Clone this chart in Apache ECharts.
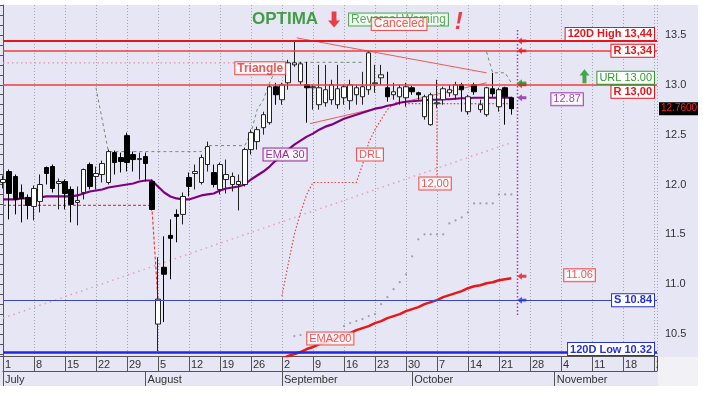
<!DOCTYPE html>
<html><head><meta charset="utf-8">
<script src="https://cdn.jsdelivr.net/npm/echarts@6/dist/echarts.min.js"></script>
<style>html,body{margin:0;padding:0;background:#fff}#c{width:703px;height:395px}</style>
</head><body><div id="c"></div>
<script>
// ---------- DATA ----------
const weekLabels = ['1','8','15','22','29','5','12','19','26','2','9','16','23','30','7','14','21','28','4','11','18','25'];
const monthLabels = ['July','August','September','October','November'];
const monthStarts = [0,23,45,66,89];

const opens = [12.02,12.13,12.08,11.92,11.87,11.78,11.83,12.17,12.18,12.01, 12.03,11.95,11.82,11.92,12.20,12.08,12.10,12.02,12.32,12.27, 12.49,12.30,12.25,12.28,12.03,10.60,11.17,11.49,11.70,11.70, 12.07,12.11,12.02,12.20,12.12,11.95,12.05,12.00,12.00,12.00, 12.35,12.43,12.57,12.62,12.98,12.85,13.02,13.20,13.03,13.00, 12.97,12.80,12.82,12.85,12.80,12.87,12.84,12.90,12.88,12.95, 13.01,13.07,12.97,12.90,12.88,12.87,12.97,12.92,12.68,12.60, 12.81,12.85,12.92,12.90,13.00,12.73,13.00,12.75,12.70,12.96, 12.78,12.97,12.87];
const closes = [12.05,11.91,11.85,11.86,11.79,11.96,12.00,12.11,11.96,12.03, 11.91,11.80,11.84,12.15,11.98,12.11,12.21,12.33,12.22,12.23, 12.22,12.25,12.26,12.21,11.75,10.85,11.10,11.46,11.68,11.88, 11.98,12.13,12.27,12.38,12.00,12.20,12.10,12.08,12.03,12.35, 12.52,12.55,12.70,12.98,12.90,13.00,13.22,13.22,13.21,12.97, 12.98,12.97,12.95,13.00,12.96,12.98,13.00,12.97,12.98,13.32, 13.02,13.10,12.88,12.93,12.97,12.98,12.93,12.90,12.88,12.90, 12.82,12.96,12.95,13.00,12.95,12.88,12.93,12.80,12.97,12.91, 12.95,12.88,12.76];
const lows = [11.96,11.65,11.70,11.62,11.65,11.64,11.72,12.00,11.92,11.75, 11.75,11.62,11.59,11.85,11.95,11.95,12.02,12.00,12.10,12.12, 12.13,12.13,12.05,12.03,11.74,10.33,10.62,11.05,11.42,11.60, 11.88,11.95,12.00,12.13,11.97,11.90,11.91,11.93,11.74,11.98, 12.30,12.35,12.50,12.60,12.80,12.80,12.95,13.18,13.00,12.62, 12.75,12.75,12.78,12.80,12.76,12.80,12.75,12.80,12.80,12.90, 12.92,13.00,12.83,12.85,12.80,12.78,12.90,12.85,12.65,12.59, 12.77,12.80,12.88,12.85,12.73,12.70,12.90,12.72,12.68,12.88, 12.73,12.60,12.70];
const highs = [12.09,12.15,12.10,12.00,11.90,11.99,12.10,12.18,12.20,12.06, 12.05,11.98,11.98,12.16,12.22,12.18,12.24,12.35,12.34,12.32, 12.52,12.33,12.32,12.32,12.05,11.27,11.48,11.65,11.75,11.92, 12.12,12.20,12.30,12.43,12.20,12.22,12.25,12.12,12.10,12.37, 12.55,12.58,12.73,13.00,13.02,13.02,13.25,13.44,13.23,13.23, 13.00,13.20,13.20,13.05,13.20,13.00,13.05,13.00,13.13,13.34, 13.20,13.20,13.13,13.02,13.00,13.02,12.99,12.93,12.90,12.92, 13.05,12.98,13.00,13.03,13.02,12.90,13.02,12.85,12.98,13.12, 12.97,12.98,12.88];

const ema30 = [11.85,11.85,11.85,11.86,11.86,11.86,11.87,11.88,11.88,11.88, 11.88,11.88,11.89,11.91,11.93,11.94,11.95,11.97,11.98,11.99, 12.00,12.01,12.03,12.04,12.04,11.98,11.92,11.88,11.86,11.85, 11.85,11.87,11.89,11.90,11.91,11.94,11.96,11.97,11.98,12.00, 12.05,12.09,12.13,12.18,12.24,12.29,12.35,12.40,12.44,12.48, 12.51,12.55,12.58,12.60,12.63,12.66,12.68,12.70,12.72,12.74, 12.76,12.77,12.79,12.80,12.82,12.83,12.835,12.84,12.845,12.85, 12.85,12.855,12.855,12.86,12.865,12.865,12.87,12.87,12.87,12.87, 12.87,12.87,12.87];

const ema200Start = 44;
const ema200 = [10.23,10.25,10.28,10.30,10.32,10.35,10.37,10.40,10.42,10.44, 10.47,10.49,10.51,10.54,10.56,10.58,10.61,10.63,10.66,10.68, 10.70,10.73,10.75,10.77,10.80,10.82,10.84,10.87,10.89,10.91, 10.93,10.96,10.98,10.99,11.01,11.02,11.04,11.05,11.06];

const drlOld = [11.79,11.79,11.79,11.79,11.79,11.79,11.79,11.79,11.79,11.79, 11.79,11.79,11.79,11.79,11.79,11.79,11.79,11.79,11.79,11.79, 11.79,11.79,11.79,11.79,11.79,10.84];
const drlStart = 45;
const drlNew = [10.88,11.20,11.50,11.72,11.90,12.02,12.02,12.02,12.02,12.02, 12.02,12.02,12.02,12.20,12.42,12.55,12.65,12.75,12.81,12.84, 12.81,12.81,12.81,12.81,12.81,12.81,12.81,12.81,12.81,12.81, 12.81,12.81,12.81,12.81,12.81,12.81,12.81,12.81];
const drlTarget = [[70, 12.81],[70, 12.07]];
const drlTargetValue = 12.00;

const stopA = {start:15, values:[12.97,12.65,12.33,12.33,12.33,12.33,12.33,12.33,12.33,12.33, 12.33,12.33,12.33,12.33,12.33,12.33,12.33,12.33,12.39,12.39, 12.39,12.39,12.39,12.39,12.39,12.52,12.75,12.85,13.02,13.15, 13.22,13.225,13.225,13.225,13.225,13.225,13.225,13.225,13.225,13.225, 13.225,13.225,13.225,13.225]};
const stopB = {start:78, values:[13.33,13.12,13.12,13.12,13.02]};

const sarStart = 47;
const sarDots = [10.48,10.49,null,null,null,null,null,null,10.58,10.61, 10.63,10.65,10.68,10.70,10.80,10.87,10.95,11.02,11.10,11.28, 11.45,11.50,11.50,11.50,11.50,11.61,11.64,11.67,11.72,11.81, 11.81,11.81,11.81,11.90,11.90,11.90];

const trendPink = [[0,10.66],[82,12.42]];
const oldTop = [[0,13.22],[38,13.22]];
const triUpper = [[47.4,13.47],[78,13.12]];
const triLower = [[49.5,12.61],[78,13.02]];
const todayLine = [[83,13.55],[83,10.67]];

const high120 = 13.44, res1 = 13.34, res2 = 13.00, urlLevel = 13.00, sup1 = 10.84, low120 = 10.32, lastPrice = 12.76;
const arrowX = 83.7;
const arrowLevels = [13.44, 13.34, 13.00, 13.02, 12.87, 11.08, 10.84];

// ---------- STYLE / LAYOUT ----------
const FONT = 'Liberation Sans, Arial, sans-serif';
const LAV = '#E6E6F5';
const RED = '#E8141C', BLUE = '#2430D8', PURPLE = '#800080', GREEN = '#1A8A1A';
const arrowColors = [RED, RED, RED, '#1A9A1A', '#9020A0', RED, BLUE];
const fmtC = v => v.toFixed(2).replace('.', ',');

const chart = echarts.init(document.getElementById('c'), null, {renderer:'canvas', width:703, height:395});

const idx = (arr, start) => arr.map((v,k) => [k + start, v == null ? '-' : v]);
const candleData = opens.map((o,i) => [i, o, closes[i], lows[i], highs[i]]);

function boxLabel(color, bold, size){
  return {show:true, position:'inside', color:color, fontSize:size||11, fontWeight:bold?'bold':'normal',
    fontFamily:FONT, backgroundColor:'#fff', borderColor:color, borderWidth:1, padding:[1,2,0,2], lineHeight:11};
}
function levelLabel(text, color, pos, dist){
  return {show:true, position:pos, formatter:text, distance:dist, color:color, fontWeight:'bold', fontSize:11,
    fontFamily:FONT, backgroundColor:'#fff', borderColor:color, borderWidth:1, padding:[1,2,0,2], lineHeight:11};
}

const LEFTARROW = 'path://M0,5 L6,0 L6,3 L12,3 L12,7 L6,7 L6,10 Z';
const DOWNARROW = 'path://M3,0 L7,0 L7,9 L10,9 L5,16 L0,9 L3,9 Z';
const UPARROW = 'path://M5,0 L10,7 L7,7 L7,16 L3,16 L3,7 L0,7 Z';

const annotations = [
  {name:'EMA 30', at:[45.5, 12.30], label: boxLabel(PURPLE,false)},
  {name:'DRL', at:[59.2, 12.30], label: boxLabel('#E83030',false)},
  {name:fmtC(drlTargetValue), at:[69.7, 12.01], label: boxLabel('#E83030',false)},
  {name:'EMA200', at:[52.8, 10.455], label: boxLabel('#E83030',false)},
  {name:ema200[ema200.length-1].toFixed(2), at:[93, 11.09], label: boxLabel('#E83030',false)},
  {name:ema30[ema30.length-1].toFixed(2), at:[91, 12.855], label: boxLabel('#9020A0',false)},
  {name:'Triangle', at:[41.5, 13.165], label: boxLabel('#E83030',true,12)},
  {name:'OPTIMA', at:[45.5, 13.66], label:{show:true, position:'inside', color:GREEN, fontSize:17, fontWeight:'bold', fontFamily:FONT}},
  {name:'Reversal Warning', at:[63.8, 13.655], label: boxLabel('#2E9A2E',false,12)},
  {name:'Canceled', at:[63.9, 13.61], label: boxLabel('#E83030',false,12)},
  {name:'!', at:[73.5, 13.63], label:{show:true, position:'inside', color:RED, fontSize:24, fontWeight:'bold', fontStyle:'italic', fontFamily:FONT}}
];

const option = {
  animation:false,
  textStyle:{fontFamily:FONT},
  graphic:{elements:[
    {type:'rect', z:-100, silent:true, shape:{x:0,y:5,width:698,height:381}, style:{fill:LAV}},
    {type:'rect', z:100, silent:true, shape:{x:658,y:357,width:40,height:29}, style:{fill:'#F2F2F6'}},
    {type:'rect', z:100, silent:true, shape:{x:698,y:0,width:5,height:395}, style:{fill:'#fff'}}
  ]},
  grid:{left:3,right:46,top:5,bottom:39},
  xAxis:[
    {type:'value', min:0, max:105.5, interval:5, position:'bottom',
     axisLine:{show:true, onZero:false, lineStyle:{color:'#555'}},
     axisTick:{show:true, length:15, lineStyle:{color:'#555'}},
     axisLabel:{formatter: v => (v % 5 === 0 && weekLabels[v/5] !== undefined) ? weekLabels[v/5] : '',
       align:'left', margin:3, padding:[0,0,0,2], fontSize:11, color:'#333', fontFamily:FONT, showMaxLabel:true},
     splitLine:{show:true, lineStyle:{color:'#A4A4B4', type:[1,2], width:1}}},
    {type:'value', min:0, max:105.5, position:'bottom', offset:15,
     axisLine:{show:true, onZero:false, lineStyle:{color:'#555'}},
     axisTick:{show:true, length:15, customValues:monthStarts, lineStyle:{color:'#555'}},
     axisLabel:{customValues:monthStarts, formatter: v => { const k = monthStarts.indexOf(v); return k >= 0 ? monthLabels[k] : ''; },
       align:'left', margin:3, padding:[0,0,0,2], fontSize:11, color:'#333', fontFamily:FONT},
     splitLine:{show:false}}
  ],
  yAxis:{type:'value', position:'right', min:10.28, max:13.8, splitNumber:7,
    axisLine:{show:true, lineStyle:{color:'#555'}},
    axisTick:{show:true, inside:true, length:6, lineStyle:{color:'#555'}},
    minorTick:{show:true, splitNumber:5, length:3, lineStyle:{color:'#555'}},
    axisLabel:{formatter: v => Math.abs(v*2 - Math.round(v*2)) < 1e-6 ? v.toFixed(1) : '', margin:8, fontSize:11, color:'#333', fontFamily:FONT},
    splitLine:{show:false}},
  series:[
    {type:'line', data:trendPink, symbol:'none', lineStyle:{color:'#E8A0B4', width:1.5, type:[1.5,4]}, z:1},
    {type:'scatter', data:idx(sarDots, sarStart), symbolSize:2.2, itemStyle:{color:'#8C8C9A'}, z:1},
    {type:'line', data:oldTop, symbol:'none', lineStyle:{color:'#E890A8', width:1.2, type:[1.5,3]}, z:1},
    {type:'line', data:idx(drlOld,0), symbol:'none', lineStyle:{color:'#E84040', width:1.2, type:[3,2]}, z:2},
    {type:'line', data:idx(drlNew,drlStart), symbol:'none', lineStyle:{color:'#E84040', width:1.2, type:[1.5,2]}, z:2},
    {type:'line', data:drlTarget, symbol:'none', lineStyle:{color:'#E84040', width:1.2, type:[1.5,2]}, z:2},
    {type:'line', data:idx(stopA.values, stopA.start), symbol:'none', lineStyle:{color:'#6E8E6E', width:1, type:[3,3]}, z:2},
    {type:'line', data:idx(stopB.values, stopB.start), symbol:'none', lineStyle:{color:'#6E8E6E', width:1, type:[3,3]}, z:2},
    {type:'line', data:triUpper, symbol:'none', lineStyle:{color:'#EC5A5A', width:1}, z:2},
    {type:'line', data:triLower, symbol:'none', lineStyle:{color:'#EC5A5A', width:1}, z:2},
    {type:'line', data:idx(ema200, ema200Start), symbol:'none', lineStyle:{color:'#E81818', width:2.5}, z:3},
    {type:'line', data:idx(ema30,0), symbol:'none', lineStyle:{color:PURPLE, width:2.2}, z:3},
    {type:'candlestick', data:candleData, barWidth:5, z:4,
     itemStyle:{color:'#FFFFFF', color0:'#000000', borderColor:'#222', borderColor0:'#000', borderWidth:1},
     markLine:{silent:true, symbol:['none','none'], animation:false, data:[
       {yAxis:high120, lineStyle:{color:RED, width:2, type:'solid'}, label:levelLabel('120D High ' + fmtC(high120), RED, 'insideEndTop', [3,1])},
       {yAxis:res1, lineStyle:{color:'#F03C3C', width:1.5, type:'solid'}, label:levelLabel('R ' + fmtC(res1), RED, 'insideEnd', [3,0])},
       {yAxis:res2, lineStyle:{color:'#F03C3C', width:1.5, type:'solid'}, label:levelLabel('R ' + fmtC(res2), RED, 'insideEndBottom', [3,1])},
       {yAxis:urlLevel, lineStyle:{color:'transparent', width:0}, label:Object.assign(levelLabel('URL ' + urlLevel.toFixed(2), '#2E9A2E', 'insideEndTop', [3,1]), {fontWeight:'normal'})},
       {yAxis:sup1, lineStyle:{color:'#3C46C8', width:1, type:'solid'}, label:levelLabel('S ' + sup1.toFixed(2), BLUE, 'insideEnd', [3,0])},
       {yAxis:low120, lineStyle:{color:'#1E28E6', width:2.5, type:'solid'}, label:levelLabel('120D Low ' + low120.toFixed(2), BLUE, 'insideEndTop', [3,-3])},
       {yAxis:lastPrice, lineStyle:{color:'transparent', width:0}, label:{show:true, position:'end', distance:2, formatter: lastPrice.toFixed(5), color:'#FF2020', fontSize:10, fontFamily:FONT, backgroundColor:'#000', padding:[2,2,1,2]}}
     ]}},
    {type:'line', data:todayLine, symbol:'none', lineStyle:{color:'#A040A0', width:1.5, type:[1.5,2]}, z:5},
    {type:'scatter', data:arrowLevels.map((v,k) => ({value:[arrowX, v], itemStyle:{color:arrowColors[k]}})), symbol:LEFTARROW, symbolSize:[9,7], z:6},
    {type:'scatter', data:[{value:[53.4, 13.655], symbol:DOWNARROW, symbolSize:[12,16], itemStyle:{color:RED}},
                           {value:[93.8, 13.085], symbol:UPARROW, symbolSize:[10,14], itemStyle:{color:'#1A9A1A'}}], z:6},
    {type:'scatter', data:annotations.map(a => ({name:a.name, value:a.at, label:Object.assign({formatter:a.name}, a.label)})),
     symbolSize:1, itemStyle:{color:'transparent'}, z:7, clip:false}
  ]
};
chart.setOption(option);
</script></body></html>
